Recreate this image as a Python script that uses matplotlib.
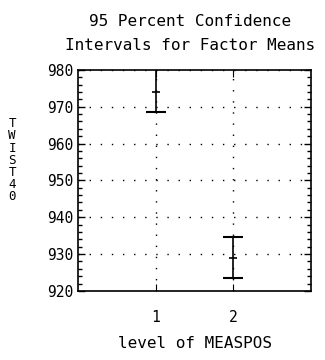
import numpy as np
import matplotlib
matplotlib.use('Agg')
from matplotlib import pyplot as plt
from matplotlib.ticker import MultipleLocator

# Data
levels = [1, 2]
means = [974.0, 929.0]
lower = [968.5, 923.4]
upper = [980.5, 934.6]
y_ticks = [920, 930, 940, 950, 960, 970, 980]
x_labels = ['1', '2']

font = 'DejaVu Sans Mono'
plt.rcParams['font.family'] = font

fig = plt.figure(figsize=(3.25, 3.6), dpi=100)
ax = fig.add_axes([0.24, 0.192, 0.717, 0.614])

means = np.array(means)
err = [means - np.array(lower), np.array(upper) - means]
ax.errorbar(levels, means, yerr=err, fmt='none', ecolor='black',
            elinewidth=1.2, capsize=7, capthick=1.5)
ax.plot(levels, means, linestyle='none', marker='_', markersize=6,
        color='black', markeredgewidth=1.2)

ax.set_xlim(0, 3)
ax.set_ylim(920, 980)
ax.set_xticks(levels)
ax.set_xticklabels(x_labels)
ax.set_yticks(y_ticks)
ax.yaxis.set_minor_locator(MultipleLocator(2))
ax.tick_params(axis='y', which='major', direction='in', length=5, left=True,
               right=True, labelsize=10.5, width=1)
ax.tick_params(axis='y', which='minor', direction='in', length=3, left=True,
               right=True, width=1)
ax.tick_params(axis='x', direction='in', length=5, top=True, labelsize=10.5,
               pad=14)
ax.grid(True, linestyle=(0, (1, 7)), color='black', linewidth=1)
for s in ax.spines.values():
    s.set_linewidth(1.2)

fig.text(0.585, 0.94, '95 Percent Confidence', ha='center', va='center',
         fontsize=11.5)
fig.text(0.585, 0.875, 'Intervals for Factor Means', ha='center',
         va='center', fontsize=11.5)
fig.text(0.6, 0.047, 'level of MEASPOS', ha='center', va='center',
         fontsize=11.5)
fig.text(0.037, 0.555, '\n'.join('TWIST40'), ha='center', va='center',
         fontsize=9, linespacing=0.92)

fig.savefig('out.png', dpi=100, facecolor='white')
